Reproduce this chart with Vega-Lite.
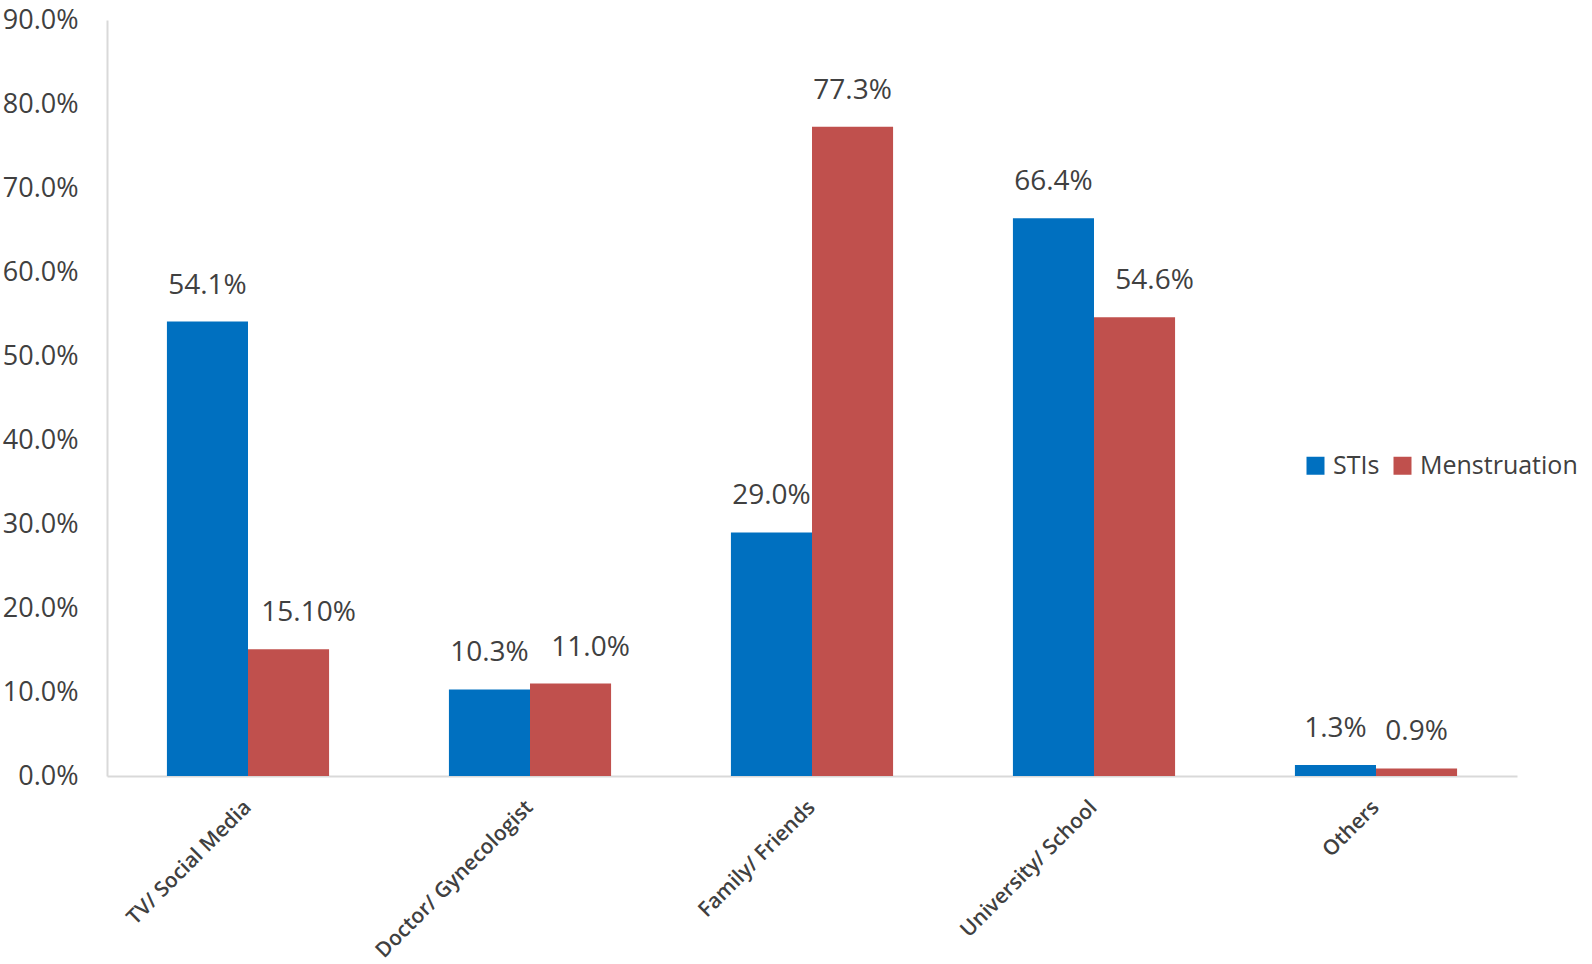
{
  "$schema": "https://vega.github.io/schema/vega-lite/v6.json",
  "width": 1410,
  "height": 756,
  "autosize": {"type": "none"},
  "padding": {"left": 107, "top": 20, "right": 75, "bottom": 188},
  "background": "white",
  "config": {
    "view": {"stroke": null},
    "font": "Open Sans",
    "axis": {"grid": false, "ticks": false, "domainColor": "#D9D9D9", "domainWidth": 2, "labelColor": "#404040", "labelFont": "Open Sans", "titleFont": "Open Sans"},
    "legend": {"labelFont": "Open Sans"}
  },
  "data": {
    "values": [
      {"source": "TV/ Social Media", "topic": "STIs", "value": 0.541, "label": "54.1%"},
      {"source": "TV/ Social Media", "topic": "Menstruation", "value": 0.151, "label": "15.10%"},
      {"source": "Doctor/ Gynecologist", "topic": "STIs", "value": 0.103, "label": "10.3%"},
      {"source": "Doctor/ Gynecologist", "topic": "Menstruation", "value": 0.110, "label": "11.0%"},
      {"source": "Family/ Friends", "topic": "STIs", "value": 0.290, "label": "29.0%"},
      {"source": "Family/ Friends", "topic": "Menstruation", "value": 0.773, "label": "77.3%"},
      {"source": "University/ School", "topic": "STIs", "value": 0.664, "label": "66.4%"},
      {"source": "University/ School", "topic": "Menstruation", "value": 0.546, "label": "54.6%"},
      {"source": "Others", "topic": "STIs", "value": 0.013, "label": "1.3%"},
      {"source": "Others", "topic": "Menstruation", "value": 0.009, "label": "0.9%"}
    ]
  },
  "encoding": {
    "x": {
      "field": "source", "type": "nominal",
      "sort": ["TV/ Social Media", "Doctor/ Gynecologist", "Family/ Friends", "University/ School", "Others"],
      "scale": {"paddingInner": 0.425, "paddingOuter": 0.2125},
      "axis": {"title": null, "labelAngle": -45, "labelAlign": "right", "labelBaseline": "middle", "labelFontSize": 21, "labelFontWeight": 600, "labelPadding": 28, "labelLimit": 0, "labelOverlap": false, "labelColor": "#404040"}
    },
    "xOffset": {"field": "topic", "type": "nominal", "sort": ["STIs", "Menstruation"], "scale": {"paddingInner": 0, "paddingOuter": 0}},
    "y": {
      "field": "value", "type": "quantitative",
      "scale": {"domain": [0, 0.9], "nice": false},
      "axis": {"title": null, "format": ".1%", "values": [0,0.1,0.2,0.3,0.4,0.5,0.6,0.7,0.8,0.9], "labelOverlap": false, "labelFontSize": 27, "labelPadding": 29, "domain": true, "domainWidth": 2}
    }
  },
  "layer": [
    {
      "mark": {"type": "bar"},
      "encoding": {
        "color": {
          "field": "topic", "type": "nominal",
          "sort": ["STIs", "Menstruation"],
          "scale": {"domain": ["STIs", "Menstruation"], "range": ["#0070C0", "#C0504D"]},
          "legend": {"title": null, "orient": "none", "direction": "horizontal", "legendX": 1196, "legendY": 433, "symbolType": "square", "symbolSize": 324, "symbolStrokeWidth": 0, "labelFontSize": 25, "labelColor": "#404040", "columnPadding": 10, "labelOffset": 5, "labelLimit": 0}
        }
      }
    },
    {
      "transform": [{"filter": {"not": {"field": "label", "oneOf": ["15.10%", "11.0%", "54.6%"]}}}],
      "mark": {"type": "text", "baseline": "middle", "align": "center", "dy": -36, "fontSize": 28, "color": "#404040"},
      "encoding": {"text": {"field": "label"}}
    },
    {
      "transform": [{"filter": {"field": "label", "oneOf": ["15.10%", "11.0%", "54.6%"]}}],
      "mark": {"type": "text", "baseline": "middle", "align": "center", "dy": -36, "dx": 20, "fontSize": 28, "color": "#404040"},
      "encoding": {"text": {"field": "label"}}
    }
  ]
}
